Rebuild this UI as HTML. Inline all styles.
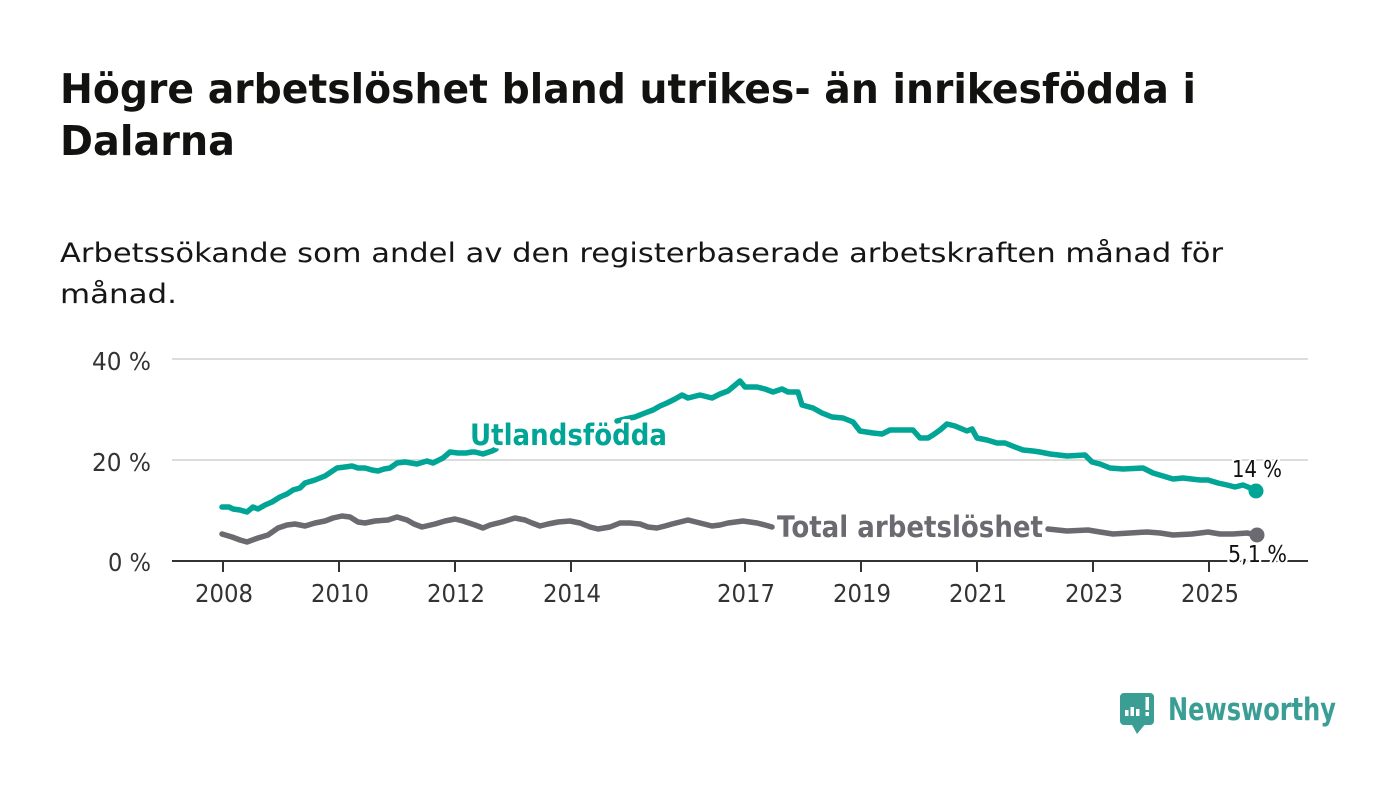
<!DOCTYPE html>
<html>
<head>
<meta charset="utf-8">
<style>
html,body{margin:0;padding:0;background:#fff;}
svg{display:block;}
text{font-family:"DejaVu Sans","Liberation Sans",sans-serif;}
</style>
</head>
<body>
<svg width="1400" height="794" viewBox="0 0 1400 794" xmlns="http://www.w3.org/2000/svg">
<rect width="1400" height="794" fill="#fff"/>

<!-- Title -->
<text x="60" y="103" font-size="41" font-weight="bold" fill="#121210" textLength="1136" lengthAdjust="spacingAndGlyphs">Högre arbetslöshet bland utrikes- än inrikesfödda i</text>
<text x="60" y="155" font-size="41" font-weight="bold" fill="#121210" textLength="175" lengthAdjust="spacingAndGlyphs">Dalarna</text>

<!-- Subtitle -->
<text x="60" y="262" font-size="27" fill="#161616" textLength="1163" lengthAdjust="spacingAndGlyphs">Arbetssökande som andel av den registerbaserade arbetskraften månad för</text>
<text x="60" y="303" font-size="27" fill="#161616" textLength="117" lengthAdjust="spacingAndGlyphs">månad.</text>

<!-- Gridlines -->
<line x1="172" y1="359" x2="1308" y2="359" stroke="#dcdcdc" stroke-width="2"/>
<line x1="172" y1="460" x2="1308" y2="460" stroke="#dcdcdc" stroke-width="2"/>

<!-- Y labels -->
<g font-size="25" fill="#333" text-anchor="end">
<text x="151" y="370" textLength="59" lengthAdjust="spacingAndGlyphs">40 %</text>
<text x="151" y="471" textLength="59" lengthAdjust="spacingAndGlyphs">20 %</text>
<text x="151" y="571" textLength="43" lengthAdjust="spacingAndGlyphs">0 %</text>
</g>

<!-- Axis -->
<line x1="172" y1="561" x2="1308" y2="561" stroke="#333" stroke-width="2"/>
<g stroke="#333" stroke-width="2">
<line x1="223" y1="561" x2="223" y2="572"/>
<line x1="339" y1="561" x2="339" y2="572"/>
<line x1="455" y1="561" x2="455" y2="572"/>
<line x1="571" y1="561" x2="571" y2="572"/>
<line x1="745" y1="561" x2="745" y2="572"/>
<line x1="861" y1="561" x2="861" y2="572"/>
<line x1="977" y1="561" x2="977" y2="572"/>
<line x1="1093" y1="561" x2="1093" y2="572"/>
<line x1="1209" y1="561" x2="1209" y2="572"/>
</g>
<g font-size="25" fill="#333" text-anchor="middle">
<text x="224" y="602" textLength="58" lengthAdjust="spacingAndGlyphs">2008</text>
<text x="340" y="602" textLength="58" lengthAdjust="spacingAndGlyphs">2010</text>
<text x="456" y="602" textLength="58" lengthAdjust="spacingAndGlyphs">2012</text>
<text x="572" y="602" textLength="58" lengthAdjust="spacingAndGlyphs">2014</text>
<text x="746" y="602" textLength="58" lengthAdjust="spacingAndGlyphs">2017</text>
<text x="862" y="602" textLength="58" lengthAdjust="spacingAndGlyphs">2019</text>
<text x="978" y="602" textLength="58" lengthAdjust="spacingAndGlyphs">2021</text>
<text x="1094" y="602" textLength="58" lengthAdjust="spacingAndGlyphs">2023</text>
<text x="1210" y="602" textLength="58" lengthAdjust="spacingAndGlyphs">2025</text>
</g>

<!-- Total series -->
<g fill="none" stroke="#6c6a71" stroke-width="5.5" stroke-linejoin="round" stroke-linecap="round">
<polyline points="222,534 232,537 240,540 247,542 258,538 268,535 278,528 287,525 295,524 305,526 315,523 325,521 333,518 342,516 350,517 358,522 365,523 375,521 388,520 397,517 407,520 414,524 422,527 435,524 445,521 455,519 463,521 475,525 483,528 490,525 502,522 515,518 525,520 532,523 540,526 548,524 558,522 570,521 580,523 590,527 598,529 610,527 620,523 630,523 640,524 648,527 657,528 665,526 672,524 688,520 700,523 712,526 720,525 728,523 743,521 757,523 765,525 772,527"/>
<polyline points="1048,529 1067,531 1088,530 1100,532 1113,534 1130,533 1147,532 1160,533 1173,535 1192,534 1208,532 1220,534 1233,534 1247,533 1257,535"/>
</g>

<!-- Utlandsfödda series -->
<g fill="none" stroke="#00a596" stroke-width="5.5" stroke-linejoin="round" stroke-linecap="round">
<polyline points="222,507 229,507 233,509 240,510 247,512 253,507 258,509 265,505 272,502 280,497 287,494 293,490 300,488 305,483 315,480 325,476 331,472 337,468 345,467 352,466 358,468 365,468 372,470 378,471 384,469 390,468 397,463 405,462 411,463 417,464 427,461 433,463 443,458 450,452 458,453 466,453 472,452 475,452 483,454 492,451 496,449"/>
<polyline points="617,421 625,419 635,417 645,413 653,410 660,406 667,403 675,399 682,395 688,398 700,395 712,398 720,394 728,391 734,386 740,381 745,387 757,387 765,389 773,392 782,389 788,392 798,392 802,405 813,408 822,413 832,417 843,418 853,422 860,431 873,433 882,434 890,430 900,430 913,430 920,438 928,438 933,435 940,430 947,424 955,426 967,431 972,429 977,438 987,440 997,443 1005,443 1015,447 1023,450 1033,451 1040,452 1050,454 1067,456 1085,455 1092,462 1100,464 1110,468 1123,469 1143,468 1153,473 1163,476 1173,479 1183,478 1200,480 1208,480 1218,483 1227,485 1235,487 1243,485 1248,487 1256,491"/>
</g>

<!-- End dots -->
<circle cx="1256" cy="491" r="7.5" fill="#00a596"/>
<circle cx="1257" cy="535" r="7.5" fill="#6c6a71"/>

<!-- Series labels -->
<text x="470" y="445" font-size="29" font-weight="bold" fill="#00a596" stroke="#fff" stroke-width="7" stroke-linejoin="round" paint-order="stroke" textLength="197" lengthAdjust="spacingAndGlyphs">Utlandsfödda</text>
<text x="777" y="537" font-size="29" font-weight="bold" fill="#6c6a71" stroke="#fff" stroke-width="7" stroke-linejoin="round" paint-order="stroke" textLength="266" lengthAdjust="spacingAndGlyphs">Total arbetslöshet</text>

<!-- Value labels -->
<text x="1232" y="477" font-size="23" fill="#111" stroke="#fff" stroke-width="5" stroke-linejoin="round" paint-order="stroke" textLength="50" lengthAdjust="spacingAndGlyphs">14 %</text>
<text x="1228" y="562" font-size="23" fill="#111" stroke="#fff" stroke-width="5" stroke-linejoin="round" paint-order="stroke" textLength="59" lengthAdjust="spacingAndGlyphs">5,1 %</text>

<!-- Logo -->
<g>
<rect x="1120" y="693" width="34" height="32" rx="4" fill="#3a9e94"/>
<polygon points="1131,723 1146,723 1137,734" fill="#3a9e94"/>
<rect x="1125" y="710" width="3.5" height="6" fill="#fff"/>
<rect x="1130.5" y="707" width="3.5" height="9" fill="#fff"/>
<rect x="1136" y="709" width="3.5" height="7" fill="#fff"/>
<rect x="1145.5" y="697" width="3.5" height="13" fill="#fff"/>
<rect x="1145.5" y="712" width="3.5" height="4" fill="#fff"/>
</g>
<text x="1168" y="720" font-family="Liberation Sans, sans-serif" font-size="31" font-weight="bold" fill="#3a9e94" textLength="168" lengthAdjust="spacingAndGlyphs">Newsworthy</text>
</svg>
</body>
</html>
